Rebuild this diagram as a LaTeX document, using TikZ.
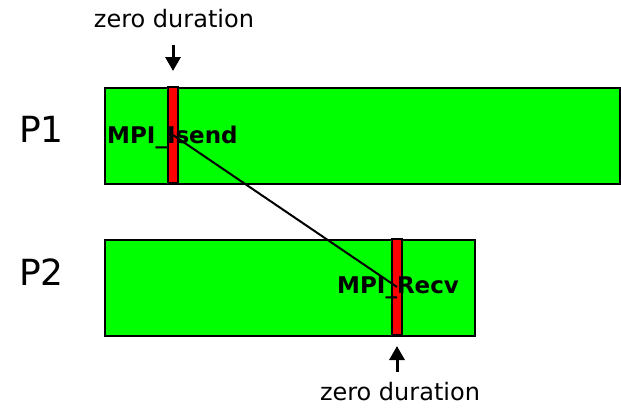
\documentclass[tikz,border=0pt]{standalone}
\usepackage{fontspec}
\setmainfont{DejaVu Sans}
\usetikzlibrary{arrows.meta,positioning}
\definecolor{mpigreen}{HTML}{00FF00}
\definecolor{mpired}{HTML}{FF0000}
\tikzset{
  procbar/.style={draw=black, line width=2pt, fill=mpigreen, anchor=north west, inner sep=0pt},
  zerobar/.style={draw=black, line width=2pt, fill=mpired, minimum width=10pt, minimum height=96pt, inner sep=0pt},
  plbl/.style={font=\fontsize{36}{40}\selectfont, anchor=base west, inner sep=0pt},
  fnlbl/.style={font=\fontsize{23}{26}\selectfont\bfseries, anchor=base west, inner sep=0pt},
  note/.style={font=\fontsize{24}{28}\selectfont, anchor=base, inner sep=0pt},
  pointer/.style={-{Triangle[length=14pt,width=15pt]}, line width=3pt},
  msg/.style={line width=2pt},
}
\begin{document}
\begin{tikzpicture}[x=1pt,y=-1pt]
    \useasboundingbox (0,0) rectangle (621,407);
    % process timelines
    \node[procbar, minimum width=515pt, minimum height=96pt] (p1bar) at (104,87) {};
    \node[procbar, minimum width=370pt, minimum height=96pt] (p2bar) at (104,239) {};
    \node[plbl] (p1) at (19,142) {P1};
    \node[plbl] (p2) at (19,285) {P2};
    % zero-duration calls
    \node[zerobar] (isend) at (173,135) {};
    \node[zerobar] (recv) at (397,287) {};
    \node[fnlbl] (isendlbl) at (107,143) {MPI\_Isend};
    \node[fnlbl] (recvlbl) at (337,293) {MPI\_Recv};
    \draw[msg] (isend.center) -- (recv.center);
    % annotations
    \node[note] (zdtop) at (174,27) {zero duration};
    \node[note] (zdbot) at (400,400) {zero duration};
    \draw[pointer, shorten <=18pt, shorten >=15pt] (zdtop.base -| isend.north) -- (isend.north);
    \draw[pointer, shorten <=10pt, shorten >=10pt] (zdbot.north -| recv.south) -- (recv.south);
\end{tikzpicture}
\end{document}
